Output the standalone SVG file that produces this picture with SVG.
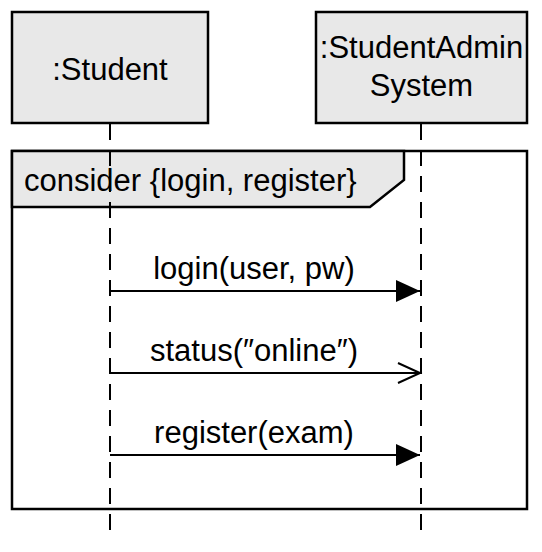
<svg xmlns="http://www.w3.org/2000/svg" width="542" height="552" viewBox="0 0 542 552">
<style>
text{font-family:"Liberation Sans",Arial,sans-serif;font-size:31px;fill:#000}
.box{fill:#e8e8e8;stroke:#000;stroke-width:2.5}
.life{stroke:#000;stroke-width:2;stroke-dasharray:16,10;fill:none}
.msg{stroke:#000;stroke-width:2;fill:none}
</style>
<defs>
<marker id="filled" markerUnits="userSpaceOnUse" markerWidth="26" markerHeight="24" refX="24" refY="12" orient="auto">
<path d="M0,1 L24,12 L0,23 Z" fill="#000"/>
</marker>
<marker id="open" markerUnits="userSpaceOnUse" markerWidth="26" markerHeight="24" refX="23" refY="12" orient="auto">
<path d="M1,2 L23,12 L1,22" fill="none" stroke="#000" stroke-width="2"/>
</marker>
</defs>
<g id="frame">
<rect x="12" y="151" width="515" height="358" fill="#fff" stroke="#000" stroke-width="2.5"/>
<path d="M12,151 H404 V180 L370,207 H12 Z" class="box"/>
<text x="24" y="191">consider {login, register}</text>
</g>
<g id="lifelines">
<line class="life" x1="110" y1="124" x2="110" y2="536"/>
<line class="life" x1="421" y1="124" x2="421" y2="536"/>
</g>
<g id="student">
<rect class="box" x="12" y="12" width="196" height="111"/>
<text x="110" y="80" text-anchor="middle">:Student</text>
</g>
<g id="system">
<rect class="box" x="316" y="12" width="211" height="111"/>
<text x="421.5" y="58" text-anchor="middle">:StudentAdmin</text>
<text x="421.5" y="96" text-anchor="middle">System</text>
</g>
<g id="connectors">
<line class="msg" x1="110" y1="291" x2="420" y2="291" marker-end="url(#filled)"/>
<text x="254" y="279" text-anchor="middle">login(user, pw)</text>
<line class="msg" x1="110" y1="373" x2="420" y2="373" marker-end="url(#open)"/>
<text x="254" y="361" text-anchor="middle">status(″online″)</text>
<line class="msg" x1="110" y1="455" x2="420" y2="455" marker-end="url(#filled)"/>
<text x="254" y="443" text-anchor="middle">register(exam)</text>
</g>
</svg>
